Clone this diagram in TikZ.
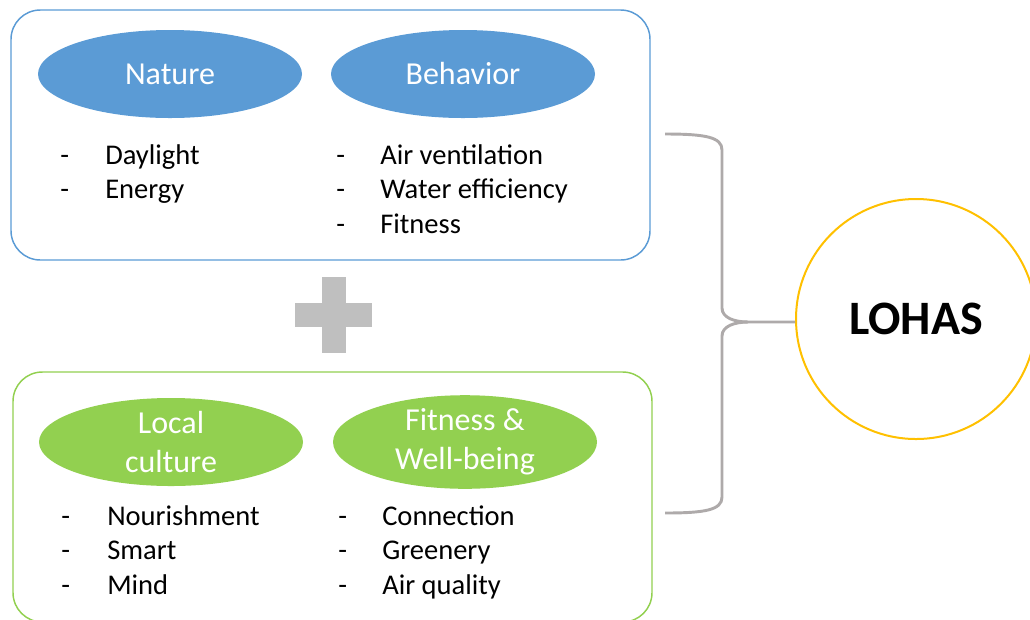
\documentclass[tikz,border=0pt]{standalone}
\usepackage{fontspec}
\setmainfont{Carlito}
\usetikzlibrary{shapes.geometric}
\definecolor{boxblue}{HTML}{5B9BD5}
\definecolor{boxgreen}{HTML}{92D050}
\definecolor{bracegray}{HTML}{AEAAAA}
\definecolor{plusgray}{HTML}{BFBFBF}
\definecolor{lohasgold}{HTML}{FFC000}
\begin{document}
\begin{tikzpicture}[x=0.75pt,y=-0.75pt,
  panel/.style={draw, line width=1.1pt, rounded corners=22pt, minimum width=479.25pt, minimum height=187.5pt, inner sep=0pt},
  cat/.style={ellipse, inner sep=0pt, minimum width=198pt, minimum height=66pt, text=white, font=\fontsize{24}{29}\selectfont, align=center},
  item/.style={anchor=base west, inner sep=0pt, font=\fontsize{21.4}{25}\selectfont},
  bracestyle/.style={draw=bracegray, line width=2.2pt}
]
\useasboundingbox (0,0) rectangle (1030,619);
\clip (0,0) rectangle (1030,619);

% panels
\node[panel, draw=boxblue] (toppanel) at (330.5,135) {};
\node[panel, draw=boxgreen] (botpanel) at (332.5,497) {};

% category ellipses
\node[cat, fill=boxblue] (nature) at (170,74) {Nature};
\node[cat, fill=boxblue] (behavior) at (463,74) {Behavior};
\node[cat, fill=boxgreen] (local) at (171,442) {Local\\culture};
\node[cat, fill=boxgreen] (fitwell) at (465,442) {Fitness \&\\Well-being};

% top lists
\node[item] (d1) at (60,164) {-};
\node[item] (t1) at (105,164) {Daylight};
\node[item] (d2) at (60,198) {-};
\node[item] (t2) at (105,198) {Energy};
\node[item] (d3) at (336,164) {-};
\node[item] (t3) at (380,164) {Air ventilation};
\node[item] (d4) at (336,198) {-};
\node[item] (t4) at (380,198) {Water efficiency};
\node[item] (d5) at (336,233) {-};
\node[item] (t5) at (380,233) {Fitness};

% bottom lists
\node[item] (d6) at (61,525) {-};
\node[item] (t6) at (107,525) {Nourishment};
\node[item] (d7) at (61,559) {-};
\node[item] (t7) at (107,559) {Smart};
\node[item] (d8) at (61,594) {-};
\node[item] (t8) at (107,594) {Mind};
\node[item] (d9) at (338,525) {-};
\node[item] (t9) at (382,525) {Connection};
\node[item] (d10) at (338,559) {-};
\node[item] (t10) at (382,559) {Greenery};
\node[item] (d11) at (338,594) {-};
\node[item] (t11) at (382,594) {Air quality};

% plus sign
\fill[plusgray] (322,277) rectangle (346,353);
\fill[plusgray] (295,303) rectangle (372,327);

% LOHAS circle
\node[circle, draw=lohasgold, line width=1.5pt, minimum size=180pt, inner sep=0pt, font=\fontsize{36}{40}\selectfont\bfseries] (lohas) at (916,319) {LOHAS};

% brace
\coordinate (btop) at (665,134);
\coordinate (bbot) at (665,513);
\coordinate (bcusp) at (748,322);
\coordinate (bend) at (lohas.west);
\draw[bracestyle] (btop) .. controls (705,134) and (722,137) .. (722,150) -- (722,308)
  .. controls (722,318) and (735,322) .. (bcusp) -- (bend |- bcusp);
\draw[bracestyle] (bcusp) .. controls (735,322) and (722,326) .. (722,336) -- (722,497)
  .. controls (722,510) and (705,513) .. (bbot);
\end{tikzpicture}
\end{document}
